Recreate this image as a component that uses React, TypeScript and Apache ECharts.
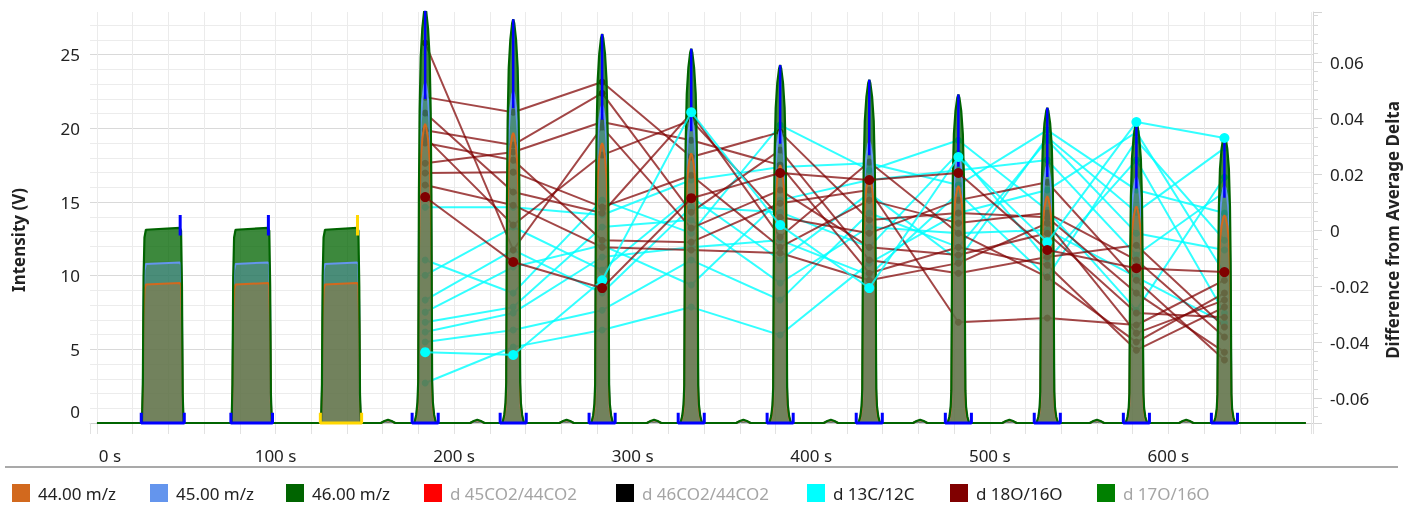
import React, { useEffect, useRef } from "react";
import * as echarts from "echarts";

// ---------- data ----------
const peakTimes = [183.8, 233.1, 282.9, 332.8, 382.6, 432.5, 482.4, 532.2, 582.1, 631.4];
const peakHeight46 = [28.2, 27.4, 26.4, 25.4, 24.3, 23.3, 22.3, 21.4, 20.4, 19.6];
const peakHeight45 = [23.1, 22.5, 21.6, 20.8, 19.9, 19.1, 18.3, 17.5, 16.7, 16.1];
const peakHeight44 = [20.3, 19.7, 19.0, 18.3, 17.5, 16.8, 16.1, 15.4, 14.7, 14.1];

const refStart = [25.6, 75.8, 125.9];
const refEnd = [48.0, 97.4, 147.3];
const refHeight46 = [13.25, 13.25, 13.25];
const refHeight45 = [10.9, 10.9, 10.9];
const refHeight44 = [9.5, 9.5, 9.5];
const refMarkerColors = ["#0000FF", "#0000FF", "#FFD700"];

const bumpTimes = [163, 213, 263, 312, 362, 411, 461, 511, 560, 610];
const bumpHeight46 = 0.22;
const bumpHeight45 = 0.15;
const bumpHeight44 = 0.18;
const runEnd = 677;

// shape profiles: [seconds offset, fraction of height]
const peakProfile = [
  [-6, 0], [-5, 0.02], [-4.3, 0.05], [-3.9, 0.1], [-3.7, 0.3], [-3.5, 0.55], [-3.1, 0.75],
  [-2.5, 0.88], [-1.6, 0.95], [-0.6, 0.99], [0, 1], [0.6, 0.99], [1.6, 0.95], [2.5, 0.88],
  [3.1, 0.75], [3.5, 0.55], [3.7, 0.3], [3.9, 0.1], [4.3, 0.05], [5, 0.02], [6, 0],
];
const pulseRise = [[-0.4, 0], [0.1, 0.2], [0.5, 0.75], [1.0, 0.95], [1.8, 0.99]];
const pulseFall = [[-1.6, 1.0], [-0.9, 0.985], [-0.4, 0.7], [0, 0.15], [0.5, 0]];
const bumpProfile = [[-4, 0], [-2, 0.6], [0, 1], [2, 0.6], [4, 0]];

// difference from average delta, one row per acquisition, one value per peak
const d13CTraces = [
  [-0.0436, -0.0446, -0.0179, 0.0421, 0.0018, -0.0207, 0.0261, -0.0043, 0.0386, 0.0329],
  [0.0082, 0.0082, 0.0054, 0.0179, 0.0225, 0.0239, 0.0161, 0.0357, 0.0143, 0.0061],
  [-0.0546, -0.0418, -0.0357, -0.0275, -0.0375, -0.0118, 0.0061, 0.0143, 0.035, -0.0154],
  [-0.0107, -0.0225, 0.0107, -0.0011, 0.0375, 0.0214, 0.0321, 0.0071, -0.0286, 0.0189],
  [-0.0161, 0.0011, -0.0143, 0.0118, -0.0107, 0.0132, -0.0107, 0.0332, 0.0064, 0.0293],
  [-0.025, -0.0071, -0.0225, 0.0082, 0.0064, -0.0061, 0.0275, -0.0107, 0.025, -0.0296],
  [-0.0293, -0.0132, -0.0054, -0.0196, 0.0107, 0.0179, 0.0214, 0.025, -0.0089, 0.0136],
  [-0.0329, -0.0275, 0.0011, 0.0036, -0.0189, 0.0011, -0.0011, 0, -0.0168, -0.0332],
  [-0.0364, -0.0296, -0.0096, -0.0061, -0.0036, -0.0161, 0.0132, -0.0168, 0.0321, -0.0036],
  [-0.04, -0.0357, -0.0286, -0.0107, -0.025, 0.0061, -0.0061, 0.0321, -0.0011, -0.0071],
];
const d18OTraces = [
  [0.0118, -0.0114, -0.0207, 0.0114, 0.0204, 0.0179, 0.0204, -0.0071, -0.0136, -0.015],
  [0.0668, -0.0071, 0.0368, 0.0007, 0.0143, -0.0061, -0.0089, -0.0011, -0.0296, -0.0311],
  [0.0475, 0.0421, 0.0529, 0.0261, 0.035, 0.0036, 0.0061, 0.0046, -0.0225, -0.0436],
  [0.0418, 0.0136, 0.0061, 0.0418, -0.0025, 0.0243, -0.0011, -0.0168, -0.04, -0.0225],
  [0.0357, 0.0304, 0.0489, 0.0064, 0.0286, -0.0107, -0.0154, -0.0096, -0.0054, -0.0346],
  [0.0332, 0.0018, 0.0268, 0.0393, 0.0046, -0.0011, 0.0107, 0.0171, -0.0179, -0.0464],
  [0.0311, 0.025, -0.0036, -0.0043, 0.0096, 0.0143, -0.0329, -0.0314, -0.0339, -0.0179],
  [0.0239, 0.0279, 0.0386, 0.0321, 0.0232, -0.0154, -0.0061, -0.0125, -0.0429, -0.0275],
  [0.0204, 0.0207, 0.0082, 0.0196, -0.0061, 0.0107, 0.0025, 0.0061, -0.0107, -0.0382],
  [0.0161, 0.0089, -0.0061, -0.0071, -0.0082, -0.0179, -0.0118, 0.0025, -0.0368, -0.025],
];
const selectedTrace = 0;

const legendNames = ["44.00 m/z", "45.00 m/z", "46.00 m/z", "d 45CO2/44CO2", "d 46CO2/44CO2", "d 13C/12C", "d 18O/16O", "d 17O/16O"];
const legendInactive = ["d 45CO2/44CO2", "d 46CO2/44CO2", "d 17O/16O"];

// ---------- helpers / layout ----------
const FONT = "'Segoe UI', 'Noto Sans', 'Open Sans', sans-serif";
const legendLeft = [12, 150, 286, 424, 616, 807, 950, 1097];

function buildIntensity(peakH: number[], refH: number[], bumpH: number) {
  const pts: (number | null)[][] = [[0, 0]];
  refStart.forEach((s, i) => {
    const e = refEnd[i];
    const h = refH[i];
    pulseRise.forEach(([dt, f]) => pts.push([s + dt, h * f]));
    pulseFall.forEach(([dt, f]) => pts.push([e + dt, h * f]));
  });
  bumpTimes.forEach((t) => bumpProfile.forEach(([dt, f]) => pts.push([t + dt, bumpH * f])));
  peakTimes.forEach((t, i) => peakProfile.forEach(([dt, f]) => pts.push([t + dt, peakH[i] * f])));
  pts.push([runEnd, 0]);
  pts.sort((a, b) => (a[0] as number) - (b[0] as number));
  return pts;
}

function traceData(vals: number[]) {
  return vals.map((v, i) => [peakTimes[i], v]);
}

function isMultiple(v: number, step: number) {
  const r = v / step;
  return Math.abs(r - Math.round(r)) < 1e-6;
}

export default function App() {
  const ref = useRef<HTMLDivElement>(null);

  useEffect(() => {
    if (!ref.current) return;
    const chart = echarts.init(ref.current, null, { renderer: "svg" });

    const data46 = buildIntensity(peakHeight46, refHeight46, bumpHeight46);
    const data45 = buildIntensity(peakHeight45, refHeight45, bumpHeight45);
    const data44 = buildIntensity(peakHeight44, refHeight44, bumpHeight44);

    const series: any[] = [];

    // delta traces behind the peaks
    d13CTraces.forEach((tr, i) => {
      if (i === selectedTrace) return;
      series.push({
        name: "d 13C/12C", type: "line", yAxisIndex: 1, z: 1, data: traceData(tr),
        color: "#00FFFF", symbol: "circle", symbolSize: 7, showSymbol: true,
        lineStyle: { color: "#00FFFF", width: 2, opacity: 0.8 }, itemStyle: { color: "#00FFFF" },
        emphasis: { disabled: true }, silent: true,
      });
    });
    d18OTraces.forEach((tr, i) => {
      if (i === selectedTrace) return;
      series.push({
        name: "d 18O/16O", type: "line", yAxisIndex: 1, z: 1, data: traceData(tr),
        color: "#800000", symbol: "circle", symbolSize: 7, showSymbol: true,
        lineStyle: { color: "#800000", width: 2, opacity: 0.72 }, itemStyle: { color: "#800000" },
        emphasis: { disabled: true }, silent: true,
      });
    });

    // intensity areas
    series.push({
      name: "46.00 m/z", type: "line", z: 2, data: data46, showSymbol: false, color: "#006400",
      lineStyle: { opacity: 0 }, areaStyle: { color: "#006400", opacity: 0.76 }, silent: true,
    });
    series.push({
      name: "45.00 m/z", type: "line", z: 2, data: data45, showSymbol: false, color: "#6495ED",
      lineStyle: { color: "#6495ED", width: 2 }, areaStyle: { color: "#6495ED", opacity: 0.34 }, silent: true,
    });
    series.push({
      name: "44.00 m/z", type: "line", z: 2, data: data44, showSymbol: false, color: "#D2691E",
      lineStyle: { color: "#D2691E", width: 2 }, areaStyle: { color: "#D2691E", opacity: 0.3 }, silent: true,
    });
    series.push({
      name: "46.00 m/z", type: "line", z: 3, data: data46, showSymbol: false, color: "#006400",
      lineStyle: { color: "#006400", width: 2.2 }, silent: true,
    });

    // peak markers
    const bracket: (number | null)[][] = [];
    const apex: (number | null)[][] = [];
    peakTimes.forEach((t, i) => {
      bracket.push([t - 7.3, 0.7], [t - 7.3, 0], [t + 7.3, 0], [t + 7.3, 0.7], [t + 7.3, null]);
      apex.push([t, peakHeight46[i]], [t, peakHeight46[i] * 0.78], [t, null]);
    });
    series.push({
      type: "line", z: 4, data: bracket, showSymbol: false, clip: false, connectNulls: false,
      lineStyle: { color: "#0000FF", width: 3 }, silent: true,
    });
    series.push({
      type: "line", z: 4, data: apex, showSymbol: false, connectNulls: false,
      lineStyle: { color: "#0000FF", width: 2.5 }, silent: true,
    });
    refStart.forEach((s, i) => {
      const e = refEnd[i];
      series.push({
        type: "line", z: 4, showSymbol: false, clip: false, connectNulls: false,
        data: [[s - 0.8, 0.7], [s - 0.8, 0], [e + 0.9, 0], [e + 0.9, 0.7], [e + 0.9, null],
          [e - 1.4, refHeight46[i] * 0.96], [e - 1.4, refHeight46[i] * 1.065]],
        lineStyle: { color: refMarkerColors[i], width: 3 }, silent: true,
      });
    });

    // selected traces on top
    series.push({
      name: "d 13C/12C", type: "line", yAxisIndex: 1, z: 5, data: traceData(d13CTraces[selectedTrace]),
      color: "#00FFFF", symbol: "circle", symbolSize: 10, showSymbol: true,
      lineStyle: { color: "#00FFFF", width: 2, opacity: 0.8 }, itemStyle: { color: "#00FFFF" }, silent: true,
    });
    series.push({
      name: "d 18O/16O", type: "line", yAxisIndex: 1, z: 5, data: traceData(d18OTraces[selectedTrace]),
      color: "#800000", symbol: "circle", symbolSize: 10, showSymbol: true,
      lineStyle: { color: "#800000", width: 2, opacity: 0.72 }, itemStyle: { color: "#800000" }, silent: true,
    });

    // legend-only series
    series.push({ name: "d 45CO2/44CO2", type: "line", data: [], color: "#FF0000" });
    series.push({ name: "d 46CO2/44CO2", type: "line", data: [], color: "#000000" });
    series.push({ name: "d 17O/16O", type: "line", data: [], color: "#008000" });

    const legends = legendNames.map((n, i) => ({
      left: legendLeft[i], top: 484, itemWidth: 18, itemHeight: 18, icon: "rect",
      selectedMode: false, padding: 0,
      textStyle: {
        fontSize: 17, fontFamily: FONT, padding: [0, 0, 0, 3],
        color: legendInactive.includes(n) ? "#a5a5a5" : "#222",
      },
      data: [n],
    }));

    const option: any = {
      animation: false,
      textStyle: { fontFamily: FONT },
      grid: { left: 90, right: 90, top: 12, bottom: 85, containLabel: false },
      xAxis: {
        type: "value", min: -3.9, max: 681, minInterval: 20, maxInterval: 20,
        axisLine: { show: true, onZero: false, lineStyle: { color: "#cfcfcf" } },
        axisTick: { show: true, length: 11, lineStyle: { color: "#e2e2e2" } },
        axisLabel: {
          margin: 24, fontSize: 17, color: "#222", fontFamily: FONT,
          formatter: (v: number) => (isMultiple(v, 100) && v >= 0 ? (Math.abs(v) < 1e-6 ? "{a|0 s}" : `${Math.round(v)} s`) : ""),
          rich: { a: { padding: [0, 0, 0, 26], fontSize: 17, color: "#222", fontFamily: FONT } },
        },
        splitLine: { show: true, showMinLine: false, showMaxLine: false, lineStyle: { color: "#ebebeb", width: 1 } },
      },
      yAxis: [
        {
          type: "value", min: 0, max: 27.9, interval: 1, position: "left",
          axisLine: { show: false }, axisTick: { show: false },
          axisLabel: {
            margin: 10, fontSize: 17, color: "#222", fontFamily: FONT,
            formatter: (v: number) => (isMultiple(v, 5) ? (Math.abs(v) < 1e-6 ? "{z|0}" : String(Math.round(v))) : ""),
            rich: { z: { padding: [0, 0, 24, 0], fontSize: 17, color: "#222", fontFamily: FONT } },
          },
          splitLine: {
            show: true, showMaxLine: false,
            lineStyle: { color: ["#d9d9d9", "#ececec", "#ececec", "#ececec", "#ececec"], width: 1 },
          },
        },
        {
          type: "value", min: -0.0689, max: 0.0779, minInterval: 0.02, maxInterval: 0.02, position: "right",
          axisLine: { show: true, lineStyle: { color: "#d4d4d4" } },
          axisTick: { show: true, length: 9, lineStyle: { color: "#d4d4d4" } },
          minorTick: { show: true, splitNumber: 6, length: 5, lineStyle: { color: "#dadada" } },
          axisLabel: {
            margin: 17, fontSize: 17, color: "#222", fontFamily: FONT,
            formatter: (v: number) => (isMultiple(v, 0.02) ? String(parseFloat(v.toFixed(2))) : ""),
          },
          splitLine: { show: false },
        },
      ],
      legend: legends,
      graphic: [
        {
          type: "text", x: 18, y: 240, rotation: Math.PI / 2,
          style: { text: "Intensity (V)", font: `bold 17px ${FONT}`, fill: "#222", textAlign: "center", textVerticalAlign: "middle", align: "center", verticalAlign: "middle" },
        },
        {
          type: "text", x: 1392, y: 230, rotation: Math.PI / 2,
          style: { text: "Difference from Average Delta", font: `bold 17px ${FONT}`, fill: "#222", textAlign: "center", textVerticalAlign: "middle", align: "center", verticalAlign: "middle" },
        },
        {
          type: "line", shape: { x1: 5, y1: 467, x2: 1398, y2: 467 },
          style: { stroke: "#a9a9a9", lineWidth: 2 },
        },
      ],
      series,
    };

    chart.setOption(option);
    return () => chart.dispose();
  }, []);

  return <div ref={ref} style={{ position: "fixed", left: 0, top: 0, width: 1403, height: 508 }} />;
}
